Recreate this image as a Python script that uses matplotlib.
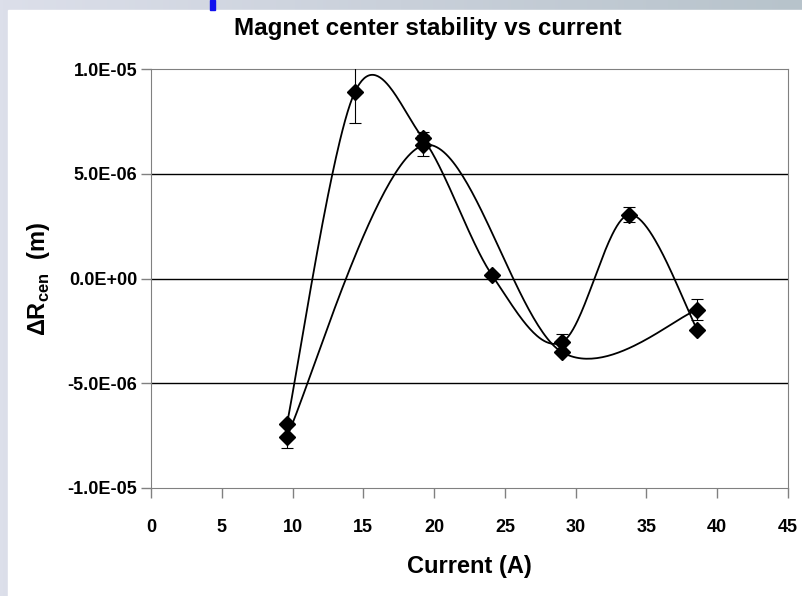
import numpy as np
import matplotlib
matplotlib.use("Agg")
import matplotlib.pyplot as plt
from matplotlib.patches import Rectangle

# measured current (A) and centre shift (m), two runs
current_a = [9.6, 14.4, 19.2, 24.1, 29.0, 33.8, 38.6]
shift_a = [-6.95e-6, 8.9e-6, 6.7e-6, 0.15e-6, -3.05e-6, 3.05e-6, -2.45e-6]
err_a = [0.0, 1.5e-6, 0.3e-6, 0.0, 0.4e-6, 0.35e-6, 0.0]

current_b = [9.6, 19.2, 29.0, 38.6]
shift_b = [-7.55e-6, 6.35e-6, -3.5e-6, -1.5e-6]
err_b = [0.55e-6, 0.5e-6, 0.0, 0.5e-6]

x_ticks = [0, 5, 10, 15, 20, 25, 30, 35, 40, 45]
y_ticks = [-1.0e-5, -5.0e-6, 0.0, 5.0e-6, 1.0e-5]
y_labels = ["-1.0E-05", "-5.0E-06", "0.0E+00", "5.0E-06", "1.0E-05"]


def smooth(xs, ys, n=60):
    # Excel-like smoothed line: Catmull-Rom turned into cubic Bezier pieces
    p = np.column_stack([xs, ys]).astype(float)
    pts = np.vstack([p[0], p, p[-1]])
    t = np.linspace(0, 1, n)[:, None]
    out = []
    for i in range(1, len(pts) - 2):
        p0, p1, p2, p3 = pts[i - 1], pts[i], pts[i + 1], pts[i + 2]
        c1 = p1 + (p2 - p0) / 6
        c2 = p2 - (p3 - p1) / 6
        seg = ((1 - t) ** 3) * p1 + 3 * ((1 - t) ** 2) * t * c1 + 3 * (1 - t) * t ** 2 * c2 + t ** 3 * p2
        out.append(seg)
    out = np.vstack(out)
    return out[:, 0], out[:, 1]


plt.rcParams["font.family"] = ["Liberation Sans", "DejaVu Sans"]
plt.rcParams["mathtext.fontset"] = "custom"
plt.rcParams["mathtext.rm"] = "Liberation Sans:bold"

fig = plt.figure(figsize=(8.03, 5.96), dpi=100)

# slide background behind the chart
bg = fig.add_axes([0, 0, 1, 1])
grad = np.linspace(0, 1, 256)[None, :]
cmap = matplotlib.colors.LinearSegmentedColormap.from_list("bg", ["#dcdfea", "#c9d0da", "#b7c3cb"])
bg.imshow(grad, aspect="auto", cmap=cmap, extent=[0, 1, 0, 1])
bg.add_patch(Rectangle((8 / 803, 0), 1, 1 - 10 / 596, color="white"))
bg.add_patch(Rectangle((210 / 803, 1 - 10 / 596), 5 / 803, 10 / 596, color="#1010ee"))
bg.set_xlim(0, 1)
bg.set_ylim(0, 1)
bg.axis("off")

ax = fig.add_axes([151 / 803, 1 - 488 / 596, 637 / 803, 419 / 596])
ax.set_xlim(0, 45)
ax.set_ylim(-1.0e-5, 1.0e-5)

for yv in [-5.0e-6, 0.0, 5.0e-6]:
    ax.axhline(yv, color="black", lw=1.0, zorder=1)

for xs, ys, es in [(current_a, shift_a, err_a), (current_b, shift_b, err_b)]:
    sx, sy = smooth(xs, ys)
    ax.plot(sx, sy, color="black", lw=1.3, zorder=2)
    ax.errorbar(xs, ys, yerr=es, fmt="D", color="black", ms=8, elinewidth=0.8,
                capsize=4, capthick=0.8, zorder=3)

ax.set_xticks(x_ticks)
ax.set_yticks(y_ticks)
ax.set_yticklabels(y_labels)
for s in ax.spines.values():
    s.set_color("#808080")
ax.tick_params(axis="both", colors="#808080", length=7, width=1, labelcolor="black",
               labelsize=13)
ax.tick_params(axis="x", pad=15)
ax.tick_params(axis="y", pad=3)
for lab in ax.get_xticklabels() + ax.get_yticklabels():
    lab.set_fontweight("bold")

fig.text(428 / 803, 1 - 28 / 596, "Magnet center stability vs current", fontsize=17.5,
         fontweight="bold", ha="center", va="center")
ax.set_xlabel("Current (A)", fontsize=17, fontweight="bold", labelpad=14)
ax.set_ylabel(r"$\Delta\mathregular{R}_{\mathregular{cen}}$  (m)", fontsize=17, fontweight="bold", labelpad=11)

fig.savefig("out.png", dpi=100)
